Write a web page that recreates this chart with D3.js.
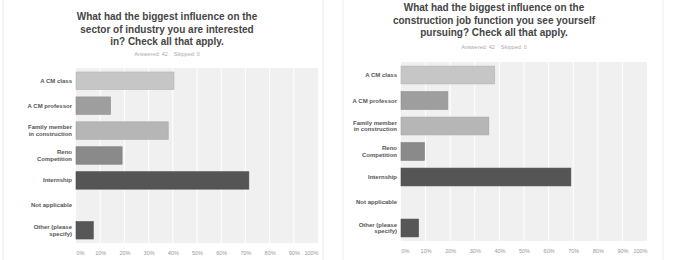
<!DOCTYPE html>
<html lang="en">
<head>
<meta charset="utf-8">
<title>Biggest influence</title>
<script src="https://cdnjs.cloudflare.com/ajax/libs/d3/7.8.5/d3.min.js"></script>
<style>
body { margin: 0; background: #fff; }
svg { font-family: "Liberation Sans", Arial, sans-serif; }
.title { font-size: 10px; font-weight: bold; fill: #454545; }
.sub { font-size: 5.5px; fill: #aaa; }
.cat { font-size: 6px; font-weight: bold; fill: #555; }
.tick text { font-size: 5.5px; fill: #999; }
.panel { fill: #fff; stroke: #ececec; stroke-width: 1; }
.plotbg { fill: #f0f0f0; }
.grid { stroke: #fff; stroke-width: 1; }
</style>
</head>
<body>
<div id="chart"></div>
<script>

const w = 675;
const h = 260;

// categories (multi-line labels split by |)
const categories = ["A CM class", "A CM professor", "Family member|in construction",
   "Reno|Competition", "Internship", "Not applicable", "Other (please|specify)"];

// percent of 42 respondents
const sectorValues = [40.48, 14.29, 38.10, 19.05, 71.43, 0, 7.14];
const jobValues = [38.10, 19.05, 35.71, 9.52, 69.05, 0, 7.14];

const barColors = ["#c6c6c6", "#9e9e9e", "#b6b6b6", "#8a8a8a", "#555555", "#555555", "#575757"];
const tickValues = [0, 10, 20, 30, 40, 50, 60, 70, 80, 90, 100];

const sectorTitle = ["What had the biggest influence on the", "sector of industry you are interested", "in? Check all that apply."];
const jobTitle = ["What had the biggest influence on the", "construction job function you see yourself", "pursuing? Check all that apply."];
const answered = "Answered: 42    Skipped: 0";

const svg = d3.select("#chart")
   .append("svg")
   .attr("width", w)
   .attr("height", h);

function drawPanel(p) {
   const g = svg.append("g");

   g.append("rect")
      .attr("class", "panel")
      .attr("x", p.panel[0]).attr("y", p.panel[1])
      .attr("width", p.panel[2]).attr("height", p.panel[3]);

   // title
   g.selectAll(".title-line")
      .data(p.title)
      .enter()
      .append("text")
      .attr("class", "title")
      .attr("x", p.cx)
      .attr("y", (d, i) => p.titleY + i * 12.5)
      .attr("text-anchor", "middle")
      .text(d => d);

   g.append("text")
      .attr("class", "sub")
      .attr("x", p.cx)
      .attr("y", p.subY)
      .attr("text-anchor", "middle")
      .style("white-space", "pre")
      .text(answered);

   const x = d3.scaleLinear().domain([0, 100]).range([p.left, p.right]);
   const y = d3.scaleBand().domain(categories)
      .range([p.top, p.bottom])
      .paddingInner(0.3)
      .paddingOuter(0.16);

   g.append("rect")
      .attr("class", "plotbg")
      .attr("x", p.left).attr("y", p.top)
      .attr("width", p.right - p.left).attr("height", p.bottom - p.top);

   g.selectAll(".grid")
      .data(tickValues.slice(1, -1))
      .enter()
      .append("line")
      .attr("class", "grid")
      .attr("x1", d => x(d)).attr("x2", d => x(d))
      .attr("y1", p.top).attr("y2", p.bottom);

   g.selectAll(".bar")
      .data(p.values)
      .enter()
      .append("rect")
      .attr("class", "bar")
      .attr("x", x(0))
      .attr("y", (d, i) => y(categories[i]))
      .attr("width", d => x(d) - x(0))
      .attr("height", y.bandwidth())
      .attr("fill", (d, i) => barColors[i])
      .attr("stroke", (d, i) => d3.color(barColors[i]).darker(0.3))
      .attr("stroke-width", 0.6)
      .style("display", d => d > 0 ? null : "none");

   // category labels
   const labels = g.selectAll(".cat")
      .data(categories)
      .enter()
      .append("text")
      .attr("class", "cat")
      .attr("text-anchor", "end")
      .attr("x", p.left - 4)
      .attr("y", d => y(d) + y.bandwidth() / 2);
   labels.each(function(d) {
      const lines = d.split("|");
      const t = d3.select(this);
      lines.forEach((l, i) => {
         t.append("tspan")
            .attr("x", p.left - 4)
            .attr("dy", i === 0 ? (2 - (lines.length - 1) * 3.3) : 6.6)
            .text(l);
      });
   });

   const axis = g.append("g")
      .attr("transform", "translate(0," + p.tickY + ")")
      .call(d3.axisBottom(x).tickValues(tickValues).tickSize(0).tickFormat(d => d + "%"));
   axis.select(".domain").remove();
   axis.selectAll(".tick text")
      .attr("dy", 0)
      .attr("y", 0)
      .attr("text-anchor", (d, i) => i === 0 ? "start" : (i === tickValues.length - 1 ? "end" : "middle"))
      .attr("font-family", null);
}

drawPanel({
   panel: [3, -2, 320, 266],
   title: sectorTitle,
   cx: 167, titleY: 20, subY: 56,
   values: sectorValues,
   left: 76, right: 318, top: 68, bottom: 243,
   tickY: 255
});

drawPanel({
   panel: [343, -2, 320, 266],
   title: jobTitle,
   cx: 494, titleY: 11, subY: 49,
   values: jobValues,
   left: 401, right: 647, top: 62, bottom: 241,
   tickY: 253
});

</script>
</body>
</html>
